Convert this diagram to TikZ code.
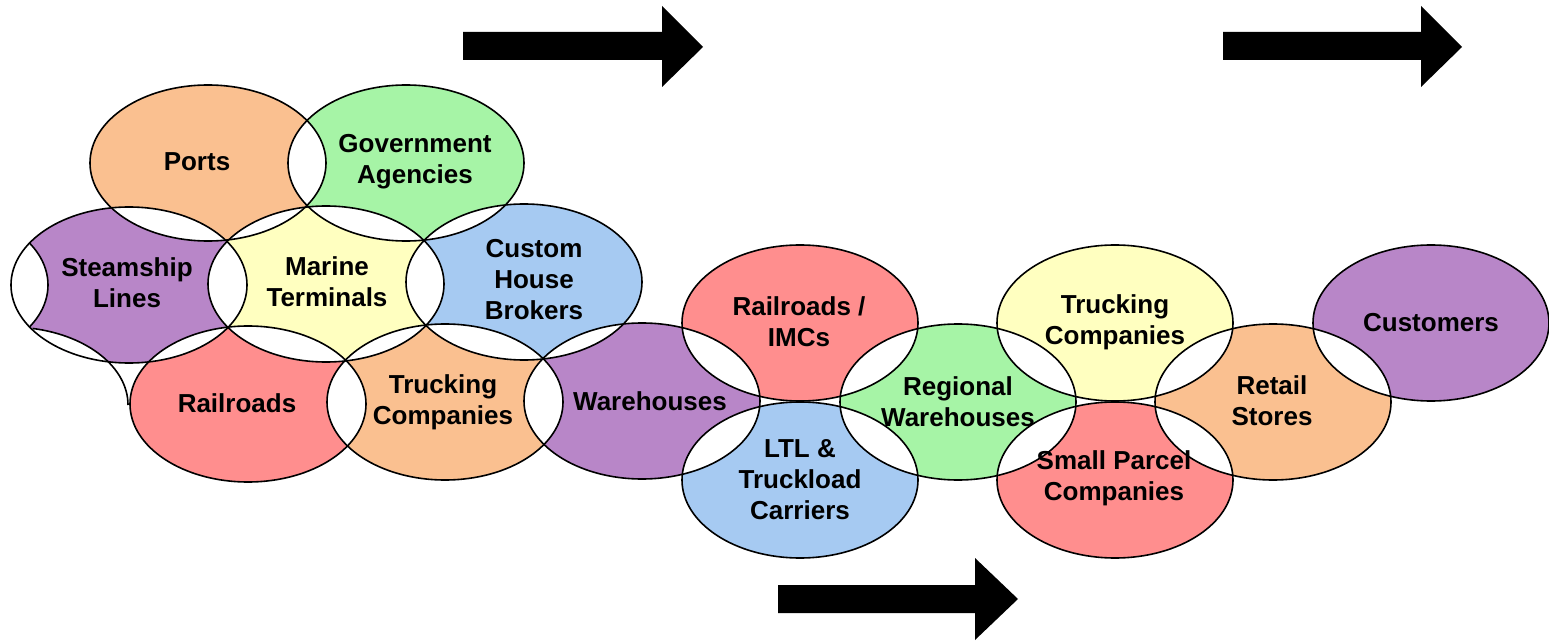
\documentclass[tikz,border=0pt]{standalone}
\usepackage{fontspec}
\setmainfont{Liberation Sans}
\usepackage{tikz}
\definecolor{portorange}{RGB}{250,192,144}
\definecolor{govgreen}{RGB}{166,244,166}
\definecolor{shippurple}{RGB}{184,134,200}
\definecolor{termyellow}{RGB}{255,255,192}
\definecolor{brokerblue}{RGB}{166,202,242}
\definecolor{railpink}{RGB}{255,142,142}

\begin{document}
\begin{tikzpicture}[x=0.5pt,y=0.5pt,
    lobe/.style={draw=black,line width=0.8pt},
    lbl/.style={font=\bfseries\fontsize{13}{15.5}\selectfont,align=center,inner sep=0pt}]
    \useasboundingbox (0,0) rectangle (1549,-642);
    \coordinate (ports) at (208,-163);
    \coordinate (govt) at (406,-163);
    \coordinate (steam) at (129,-285);
    \coordinate (marine) at (326,-284);
    \coordinate (chb) at (524,-282);
    \coordinate (rail) at (248,-404);
    \coordinate (truckA) at (445,-402);
    \coordinate (wareh) at (642,-401);
    \coordinate (rimc) at (800,-323);
    \coordinate (ltl) at (800,-480);
    \coordinate (regwh) at (958,-402);
    \coordinate (truckB) at (1115,-323);
    \coordinate (parcel) at (1115,-480);
    \coordinate (retail) at (1273,-402);
    \coordinate (cust) at (1431,-323);
    \coordinate (ghostL) at (-70,-285);
    \coordinate (ghostB) at (10,-405);
    \fill [portorange] (ports) ellipse (118 and 78);
    \fill [govgreen] (govt) ellipse (118 and 78);
    \fill [shippurple] (steam) ellipse (118 and 78);
    \fill [termyellow] (marine) ellipse (118 and 78);
    \fill [brokerblue] (chb) ellipse (118 and 78);
    \fill [railpink] (rail) ellipse (118 and 78);
    \fill [portorange] (truckA) ellipse (118 and 78);
    \fill [shippurple] (wareh) ellipse (118 and 78);
    \fill [railpink] (rimc) ellipse (118 and 78);
    \fill [brokerblue] (ltl) ellipse (118 and 78);
    \fill [govgreen] (regwh) ellipse (118 and 78);
    \fill [termyellow] (truckB) ellipse (118 and 78);
    \fill [railpink] (parcel) ellipse (118 and 78);
    \fill [portorange] (retail) ellipse (118 and 78);
    \fill [shippurple] (cust) ellipse (118 and 78);
    \begin{scope} \clip (ports) ellipse (118 and 78); \fill [white] (govt) ellipse (118 and 78); \end{scope}
    \begin{scope} \clip (ports) ellipse (118 and 78); \fill [white] (steam) ellipse (118 and 78); \end{scope}
    \begin{scope} \clip (ports) ellipse (118 and 78); \fill [white] (marine) ellipse (118 and 78); \end{scope}
    \begin{scope} \clip (govt) ellipse (118 and 78); \fill [white] (marine) ellipse (118 and 78); \end{scope}
    \begin{scope} \clip (govt) ellipse (118 and 78); \fill [white] (chb) ellipse (118 and 78); \end{scope}
    \begin{scope} \clip (steam) ellipse (118 and 78); \fill [white] (marine) ellipse (118 and 78); \end{scope}
    \begin{scope} \clip (steam) ellipse (118 and 78); \fill [white] (rail) ellipse (118 and 78); \end{scope}
    \begin{scope} \clip (steam) ellipse (118 and 78); \fill [white] (ghostL) ellipse (118 and 78); \end{scope}
    \begin{scope} \clip (steam) ellipse (118 and 78); \fill [white] (ghostB) ellipse (118 and 78); \end{scope}
    \begin{scope} \clip (marine) ellipse (118 and 78); \fill [white] (chb) ellipse (118 and 78); \end{scope}
    \begin{scope} \clip (marine) ellipse (118 and 78); \fill [white] (rail) ellipse (118 and 78); \end{scope}
    \begin{scope} \clip (marine) ellipse (118 and 78); \fill [white] (truckA) ellipse (118 and 78); \end{scope}
    \begin{scope} \clip (chb) ellipse (118 and 78); \fill [white] (truckA) ellipse (118 and 78); \end{scope}
    \begin{scope} \clip (chb) ellipse (118 and 78); \fill [white] (wareh) ellipse (118 and 78); \end{scope}
    \begin{scope} \clip (rail) ellipse (118 and 78); \fill [white] (truckA) ellipse (118 and 78); \end{scope}
    \begin{scope} \clip (truckA) ellipse (118 and 78); \fill [white] (wareh) ellipse (118 and 78); \end{scope}
    \begin{scope} \clip (wareh) ellipse (118 and 78); \fill [white] (rimc) ellipse (118 and 78); \end{scope}
    \begin{scope} \clip (wareh) ellipse (118 and 78); \fill [white] (ltl) ellipse (118 and 78); \end{scope}
    \begin{scope} \clip (regwh) ellipse (118 and 78); \fill [white] (rimc) ellipse (118 and 78); \end{scope}
    \begin{scope} \clip (regwh) ellipse (118 and 78); \fill [white] (ltl) ellipse (118 and 78); \end{scope}
    \begin{scope} \clip (regwh) ellipse (118 and 78); \fill [white] (truckB) ellipse (118 and 78); \end{scope}
    \begin{scope} \clip (regwh) ellipse (118 and 78); \fill [white] (parcel) ellipse (118 and 78); \end{scope}
    \begin{scope} \clip (retail) ellipse (118 and 78); \fill [white] (truckB) ellipse (118 and 78); \end{scope}
    \begin{scope} \clip (retail) ellipse (118 and 78); \fill [white] (parcel) ellipse (118 and 78); \end{scope}
    \begin{scope} \clip (retail) ellipse (118 and 78); \fill [white] (cust) ellipse (118 and 78); \end{scope}
    \draw [lobe] (ports) ellipse (118 and 78);
    \draw [lobe] (govt) ellipse (118 and 78);
    \draw [lobe] (steam) ellipse (118 and 78);
    \draw [lobe] (marine) ellipse (118 and 78);
    \draw [lobe] (chb) ellipse (118 and 78);
    \draw [lobe] (rail) ellipse (118 and 78);
    \draw [lobe] (truckA) ellipse (118 and 78);
    \draw [lobe] (wareh) ellipse (118 and 78);
    \draw [lobe] (rimc) ellipse (118 and 78);
    \draw [lobe] (ltl) ellipse (118 and 78);
    \draw [lobe] (regwh) ellipse (118 and 78);
    \draw [lobe] (truckB) ellipse (118 and 78);
    \draw [lobe] (parcel) ellipse (118 and 78);
    \draw [lobe] (retail) ellipse (118 and 78);
    \draw [lobe] (cust) ellipse (118 and 78);
    \begin{scope} \clip (steam) ellipse (118 and 78); \draw [lobe] (ghostL) ellipse (118 and 78); \end{scope}
    \draw [lobe] ([xshift=59pt]ghostB) arc [start angle=0, end angle=79, x radius=118, y radius=78];
    \fill [black] (463,-32) -- (662,-32) -- (662,-6) -- (703,-47) -- (662,-87) -- (662,-60) -- (463,-60) -- cycle;
    \fill [black] (1223,-32) -- (1421,-32) -- (1421,-6) -- (1462,-47) -- (1421,-87) -- (1421,-60) -- (1223,-60) -- cycle;
    \fill [black] (778,-585) -- (975,-585) -- (975,-558) -- (1018,-599) -- (975,-640) -- (975,-613) -- (778,-613) -- cycle;
    \node [lbl] (portsl) at (197,-162) {Ports};
    \node [lbl] (govtl) at (415,-162) {Government\\Agencies};
    \node [lbl] (steaml) at (127,-283) {Steamship\\Lines};
    \node [lbl] (marinel) at (327,-282) {Marine\\Terminals};
    \node [lbl] (chbl) at (534,-280) {Custom\\House\\Brokers};
    \node [lbl] (raill) at (237,-403) {Railroads};
    \node [lbl] (truckAl) at (443,-402) {Trucking\\Companies};
    \node [lbl] (warehl) at (650,-401) {Warehouses};
    \node [lbl] (rimcl) at (799,-322) {Railroads /\\IMCs};
    \node [lbl] (ltll) at (800,-480) {LTL \&\\Truckload\\Carriers};
    \node [lbl] (regwhl) at (958,-402) {Regional\\Warehouses};
    \node [lbl] (truckBl) at (1115,-322) {Trucking\\Companies};
    \node [lbl] (retaill) at (1272,-401) {Retail\\Stores};
    \node [lbl] (parcell) at (1114,-478) {Small Parcel\\Companies};
    \node [lbl] (custl) at (1431,-323) {Customers};
\end{tikzpicture}
\end{document}
